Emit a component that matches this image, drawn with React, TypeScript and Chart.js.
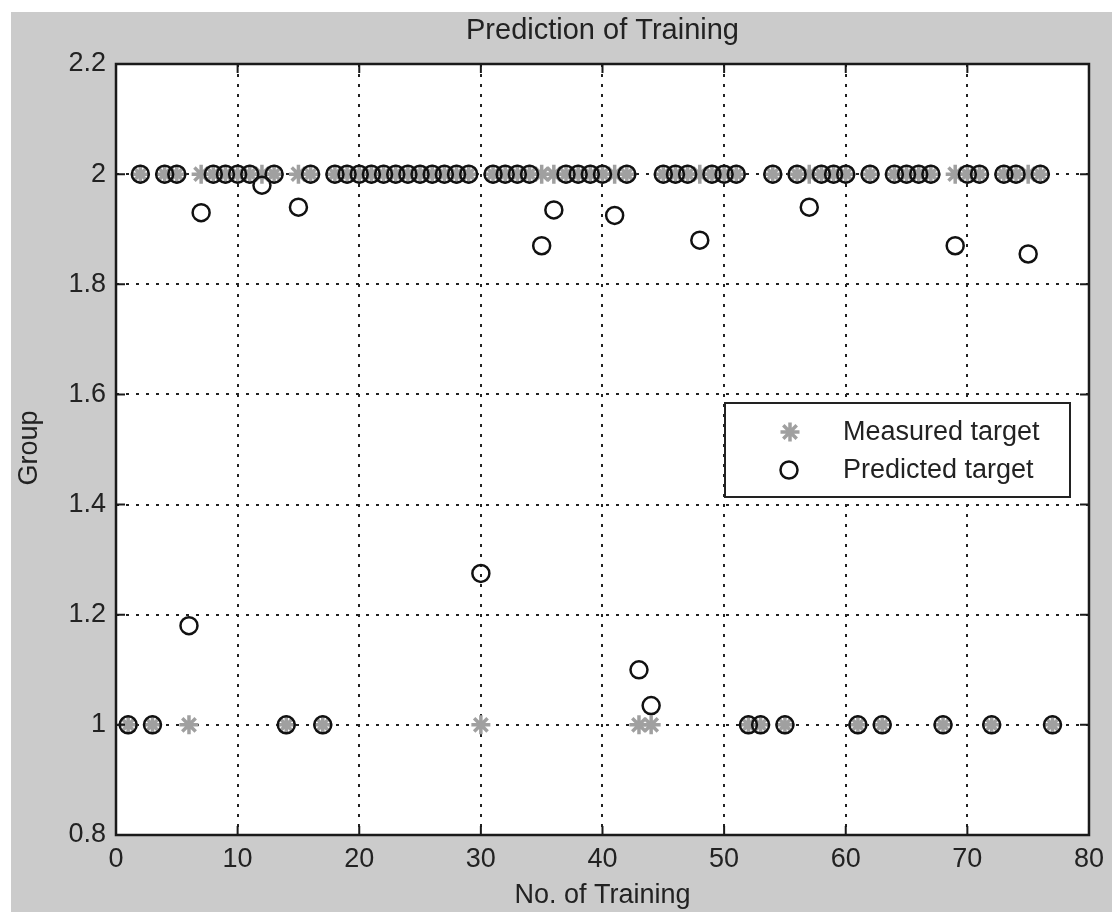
import React, { useEffect, useRef } from "react";
import { Chart, registerables } from "chart.js";

Chart.register(...registerables);

// ---- data ----
const trainingIndex = [
  1, 2, 3, 4, 5, 6, 7, 8, 9, 10, 11, 12, 13, 14, 15, 16, 17, 18, 19, 20,
  21, 22, 23, 24, 25, 26, 27, 28, 29, 30, 31, 32, 33, 34, 35, 36, 37, 38, 39, 40,
  41, 42, 43, 44, 45, 46, 47, 48, 49, 50, 51, 52, 53, 54, 55, 56, 57, 58, 59, 60,
  61, 62, 63, 64, 65, 66, 67, 68, 69, 70, 71, 72, 73, 74, 75, 76, 77,
];

const measuredTarget = [
  1, 2, 1, 2, 2, 1, 2, 2, 2, 2, 2, 2, 2, 1, 2, 2, 1, 2, 2, 2,
  2, 2, 2, 2, 2, 2, 2, 2, 2, 1, 2, 2, 2, 2, 2, 2, 2, 2, 2, 2,
  2, 2, 1, 1, 2, 2, 2, 2, 2, 2, 2, 1, 1, 2, 1, 2, 2, 2, 2, 2,
  1, 2, 1, 2, 2, 2, 2, 1, 2, 2, 2, 1, 2, 2, 2, 2, 1,
];

const predictedTarget = [
  1, 2, 1, 2, 2, 1.18, 1.93, 2, 2, 2, 2, 1.98, 2, 1, 1.94, 2, 1, 2, 2, 2,
  2, 2, 2, 2, 2, 2, 2, 2, 2, 1.275, 2, 2, 2, 2, 1.87, 1.935, 2, 2, 2, 2,
  1.925, 2, 1.1, 1.035, 2, 2, 2, 1.88, 2, 2, 2, 1, 1, 2, 1, 2, 1.94, 2, 2, 2,
  1, 2, 1, 2, 2, 2, 2, 1, 1.87, 2, 2, 1, 2, 2, 1.855, 2, 1,
];

const xTicks = [0, 10, 20, 30, 40, 50, 60, 70, 80];
const yTicks = [0.8, 1.0, 1.2, 1.4, 1.6, 1.8, 2.0, 2.2];
const yTickLabels = ["0.8", "1", "1.2", "1.4", "1.6", "1.8", "2", "2.2"];
const xTickLabels = ["0", "10", "20", "30", "40", "50", "60", "70", "80"];
const seriesLabels = ["Measured target", "Predicted target"];
const chartTitle = "Prediction of Training";
const xTitle = "No. of Training";
const yTitle = "Group";

const FONT = "'Liberation Sans', Arial, sans-serif";
const TEXT = "#222222";
const STAR = "#a0a0a0";
const BG = "#cbcbcb";

function drawStar(ctx: CanvasRenderingContext2D, sx: number, sy: number, r: number) {
  ctx.beginPath();
  ctx.moveTo(sx - r, sy); ctx.lineTo(sx + r, sy);
  ctx.moveTo(sx, sy - r); ctx.lineTo(sx, sy + r);
  const d = r * Math.SQRT1_2;
  ctx.moveTo(sx - d, sy - d); ctx.lineTo(sx + d, sy + d);
  ctx.moveTo(sx - d, sy + d); ctx.lineTo(sx + d, sy - d);
  ctx.stroke();
}

const framePlugin = {
  id: "matlabFrame",
  beforeDraw(chart: any) {
    const { ctx, width, height, chartArea: a } = chart;
    ctx.save();
    ctx.fillStyle = "#ffffff";
    ctx.fillRect(0, 0, width, height);
    ctx.fillStyle = BG;
    ctx.fillRect(11, 12, width - 11, height - 12);
    ctx.fillStyle = "#ffffff";
    ctx.fillRect(a.left, a.top, a.right - a.left, a.bottom - a.top);
    ctx.restore();
  },
  afterDatasetsDraw(chart: any) {
    const { ctx, chartArea: a, scales } = chart;
    ctx.save();
    ctx.strokeStyle = "#1a1a1a";
    ctx.lineWidth = 2;
    ctx.setLineDash([]);
    const tl = 9;
    ctx.beginPath();
    xTicks.forEach((v) => {
      const px = scales.x.getPixelForValue(v);
      ctx.moveTo(px, a.bottom);
      ctx.lineTo(px, a.bottom - tl);
      ctx.moveTo(px, a.top);
      ctx.lineTo(px, a.top + tl);
    });
    yTicks.forEach((v) => {
      const py = scales.y.getPixelForValue(v);
      ctx.moveTo(a.left, py);
      ctx.lineTo(a.left + tl, py);
      ctx.moveTo(a.right, py);
      ctx.lineTo(a.right - tl, py);
    });
    ctx.stroke();
    ctx.lineWidth = 2.5;
    ctx.strokeRect(a.left, a.top, a.right - a.left, a.bottom - a.top);
    ctx.restore();
  },
  afterDraw(chart: any) {
    const { ctx, chartArea: a } = chart;
    ctx.save();
    ctx.fillStyle = TEXT;
    ctx.textAlign = "center";
    ctx.textBaseline = "middle";
    const cx = (a.left + a.right) / 2;
    ctx.font = `29px ${FONT}`;
    ctx.fillText(chartTitle, cx, 31);
    ctx.font = `27px ${FONT}`;
    ctx.fillText(xTitle, cx, 896);
    ctx.save();
    ctx.translate(30, 448);
    ctx.rotate(-Math.PI / 2);
    ctx.fillText(yTitle, 0, 0);
    ctx.restore();

    // legend
    const lx = 725, ly = 403, lw = 345, lh = 94;
    ctx.fillStyle = "#ffffff";
    ctx.fillRect(lx, ly, lw, lh);
    ctx.strokeStyle = "#222";
    ctx.lineWidth = 2;
    ctx.strokeRect(lx, ly, lw, lh);
    ctx.strokeStyle = STAR;
    ctx.lineWidth = 3.5;
    drawStar(ctx, 790, 432, 9.5);
    ctx.strokeStyle = "#111";
    ctx.lineWidth = 2.5;
    ctx.beginPath();
    ctx.arc(789, 470, 8.5, 0, Math.PI * 2);
    ctx.stroke();
    ctx.fillStyle = TEXT;
    ctx.textAlign = "left";
    ctx.font = `27px ${FONT}`;
    ctx.fillText(seriesLabels[0], 843, 433);
    ctx.fillText(seriesLabels[1], 843, 471);
    ctx.restore();
  },
};

export default function App() {
  const ref = useRef<HTMLCanvasElement | null>(null);
  useEffect(() => {
    if (!ref.current) return;
    const chart = new Chart(ref.current, {
      type: "scatter",
      data: {
        datasets: [
          {
            label: seriesLabels[0],
            data: trainingIndex.map((x, i) => ({ x, y: measuredTarget[i] })),
            pointStyle: "star",
            pointRadius: 9.5,
            pointBorderWidth: 3.5,
            borderColor: STAR,
            backgroundColor: STAR,
            showLine: false,
            order: 2,
          },
          {
            label: seriesLabels[1],
            data: trainingIndex.map((x, i) => ({ x, y: predictedTarget[i] })),
            pointStyle: "circle",
            pointRadius: 8.5,
            pointBorderWidth: 2.5,
            borderColor: "#111111",
            backgroundColor: "rgba(0,0,0,0)",
            showLine: false,
            order: 1,
          },
        ],
      } as any,
      options: {
        animation: false,
        responsive: false,
        maintainAspectRatio: false,
        layout: { padding: { top: 64, right: 19, left: 0, bottom: 0 } },
        plugins: {
          legend: { display: false },
          title: { display: false },
          tooltip: { enabled: false },
        },
        scales: {
          x: {
            type: "linear",
            min: 0,
            max: 80,
            afterBuildTicks: (s: any) => {
              s.ticks = xTicks.map((v) => ({ value: v }));
            },
            afterFit: (s: any) => {
              s.height = 77;
            },
            grid: { color: "#222", lineWidth: 2, drawTicks: false },
            border: { display: false, dash: [3, 7] },
            ticks: {
              padding: 8,
              color: TEXT,
              font: { family: FONT, size: 27 },
              maxRotation: 0,
              autoSkip: false,
              callback: (v: any) => xTickLabels[xTicks.indexOf(Number(v))] ?? "",
            },
          },
          y: {
            type: "linear",
            min: 0.8,
            max: 2.2,
            afterBuildTicks: (s: any) => {
              s.ticks = yTicks.map((v) => ({ value: v }));
            },
            afterFit: (s: any) => {
              s.width = 116;
            },
            grid: { color: "#222", lineWidth: 2, drawTicks: false },
            border: { display: false, dash: [3, 7] },
            ticks: {
              padding: 10,
              color: TEXT,
              font: { family: FONT, size: 27 },
              autoSkip: false,
              callback: (v: any) => {
                const idx = yTicks.findIndex((t) => Math.abs(t - Number(v)) < 1e-6);
                return idx >= 0 ? yTickLabels[idx] : "";
              },
            },
          },
        },
      } as any,
      plugins: [framePlugin],
    });
    return () => chart.destroy();
  }, []);

  return (
    <div style={{ position: "fixed", left: 0, top: 0, width: 1112, height: 912 }}>
      <canvas ref={ref} width={1112} height={912} style={{ display: "block" }} />
    </div>
  );
}
